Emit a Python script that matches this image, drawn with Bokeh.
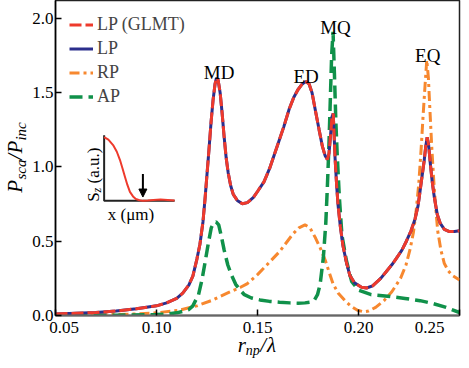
from math import pi
from bokeh.plotting import figure
from bokeh.models import (Range1d, FixedTicker, CustomJSTickFormatter, Legend, LegendItem,
                          Label, Arrow, NormalHead, LinearAxis, AllLabels)
from bokeh.core.properties import value
from bokeh.embed import file_html
from bokeh.resources import INLINE

# ---------------- data ----------------
x_lp = [0.050, 0.060, 0.070, 0.080, 0.090, 0.100, 0.105, 0.110, 0.113, 0.116,
        0.118, 0.120, 0.1215, 0.123, 0.124, 0.125, 0.126, 0.127, 0.128, 0.129,
        0.1297, 0.1305, 0.1315, 0.1325, 0.1335, 0.1345, 0.1355, 0.1367, 0.138, 0.140,
        0.1425, 0.145, 0.148, 0.150, 0.1532, 0.156, 0.160, 0.163, 0.1657, 0.168,
        0.170, 0.172, 0.1738, 0.1755, 0.177, 0.1788, 0.1805, 0.1821, 0.1835, 0.1846,
        0.1854, 0.1862, 0.1869, 0.1875, 0.1884, 0.1892, 0.1899, 0.191, 0.1923, 0.194,
        0.1957, 0.198, 0.2015, 0.204, 0.207, 0.211, 0.214, 0.217, 0.219, 0.2215,
        0.2237, 0.226, 0.228, 0.2295, 0.2305, 0.2315, 0.2325, 0.2333, 0.2340, 0.2347,
        0.2355, 0.2365, 0.2375, 0.2390, 0.2405, 0.2425, 0.245, 0.2475, 0.250]
lp = [0.010, 0.015, 0.020, 0.030, 0.045, 0.065, 0.085, 0.115, 0.150, 0.205,
      0.265, 0.380, 0.480, 0.630, 0.780, 0.950, 1.120, 1.300, 1.450, 1.560,
      1.600, 1.585, 1.500, 1.360, 1.200, 1.060, 0.960, 0.875, 0.815, 0.775,
      0.752, 0.760, 0.795, 0.835, 0.900, 0.990, 1.150, 1.270, 1.390, 1.470,
      1.520, 1.556, 1.575, 1.560, 1.500, 1.370, 1.250, 1.140, 1.075, 1.050,
      1.090, 1.220, 1.340, 1.360, 1.060, 0.870, 0.740, 0.600, 0.470, 0.360,
      0.270, 0.220, 0.190, 0.185, 0.200, 0.250, 0.300, 0.350, 0.390, 0.440,
      0.500, 0.570, 0.650, 0.740, 0.840, 0.940, 1.040, 1.140, 1.200, 1.150,
      1.030, 0.900, 0.800, 0.680, 0.620, 0.580, 0.565, 0.565, 0.570]
lp_glmt = list(lp)

x_rp = [0.050, 0.070, 0.090, 0.100, 0.111, 0.120, 0.1271, 0.135, 0.1416, 0.145,
        0.150, 0.1546, 0.1609, 0.1676, 0.1705, 0.1735, 0.176, 0.1788, 0.1812, 0.1836,
        0.1855, 0.1875, 0.190, 0.1933, 0.1965, 0.1995, 0.2025, 0.205, 0.2085, 0.2126,
        0.2165, 0.2208, 0.2235, 0.2256, 0.2272, 0.2285, 0.2298, 0.231, 0.232, 0.2329,
        0.2338, 0.2346, 0.2353, 0.2362, 0.2372, 0.2382, 0.2392, 0.2408, 0.2425, 0.2445,
        0.2464, 0.250]
rp = [0.002, 0.004, 0.010, 0.018, 0.035, 0.065, 0.100, 0.150, 0.190, 0.215,
      0.275, 0.340, 0.430, 0.550, 0.590, 0.610, 0.590, 0.520, 0.450, 0.370,
      0.290, 0.210, 0.150, 0.100, 0.060, 0.035, 0.025, 0.030, 0.055, 0.100,
      0.160, 0.250, 0.340, 0.450, 0.560, 0.700, 0.880, 1.120, 1.350, 1.540,
      1.720, 1.600, 1.400, 1.150, 0.920, 0.730, 0.570, 0.440, 0.350, 0.300,
      0.270, 0.240]

x_ap = [0.050, 0.080, 0.100, 0.105, 0.110, 0.113, 0.116, 0.118, 0.1208, 0.1225,
        0.1242, 0.1257, 0.1271, 0.1283, 0.1295, 0.1308, 0.132, 0.1335, 0.1353, 0.1372,
        0.1392, 0.1415, 0.1435, 0.147, 0.1512, 0.156, 0.1609, 0.166, 0.170, 0.1735,
        0.176, 0.178, 0.1797, 0.181, 0.1826, 0.1838, 0.1846, 0.1853, 0.186, 0.1867,
        0.1874, 0.1881, 0.1888, 0.1894, 0.1905, 0.1918, 0.194, 0.1966, 0.200, 0.2063,
        0.2144, 0.223, 0.2305, 0.237, 0.2434, 0.250]
ap = [0.000, 0.002, 0.006, 0.010, 0.018, 0.028, 0.040, 0.065, 0.140, 0.240,
      0.370, 0.490, 0.590, 0.625, 0.630, 0.610, 0.540, 0.440, 0.340, 0.270,
      0.210, 0.170, 0.140, 0.118, 0.105, 0.095, 0.090, 0.085, 0.083, 0.085,
      0.090, 0.100, 0.140, 0.210, 0.390, 0.620, 0.870, 1.120, 1.430, 1.750,
      1.910, 1.620, 1.300, 1.100, 0.800, 0.540, 0.370, 0.230, 0.170, 0.140,
      0.130, 0.115, 0.100, 0.080, 0.055, 0.020]

peak_names = ["MD", "ED", "MQ", "EQ"]
peak_x = [0.1310, 0.1741, 0.1886, 0.2343]
peak_y = [1.633, 1.607, 1.940, 1.753]

x_ticks = [0.05, 0.10, 0.15, 0.20, 0.25]
y_ticks = [0.0, 0.5, 1.0, 1.5, 2.0]

# axis titles, split into normal-size parts and subscripts
xlab_main = ["r", "/", "\u03bb"]
xlab_sub = ["np"]
ylab_main = ["P", "/", "P"]
ylab_sub = ["sca", "inc"]

# inset: schematic S_z profile (arbitrary units)
inset_x = [0.00, 0.06, 0.127, 0.18, 0.225, 0.26, 0.296, 0.33, 0.366, 0.41,
           0.45, 0.50, 0.55, 0.62, 0.70, 0.80, 0.90, 1.00]
inset_sz = [1.00, 0.96, 0.875, 0.77, 0.64, 0.51, 0.375, 0.25, 0.14, 0.07,
            0.03, 0.01, 0.00, 0.004, 0.012, 0.022, 0.015, 0.005]
inset_axes_x = [0.0, 0.0, 1.0]
inset_axes_y = [1.03, 0.0, 0.0]
inset_arrow = (0.55, 0.42, 0.06)   # x, y_start, y_end

# ---------------- styling ----------------
RED = "#EE3A2C"
NAVY = "#2B2E8C"
ORANGE = "#F7882F"
GREEN = "#10914A"
SERIF = "Liberation Serif"
AX_FONT = "Times"

W, H = 461, 360
FL, FR, FT, FB = 52, 459, 0, 316      # frame edges in canvas px
X0, X1 = 0.05, 0.25
Y0, Y1 = 0.0, (FB - FT) / 149.0

p = figure(width=W, height=H, x_range=Range1d(X0, X1), y_range=Range1d(Y0, Y1),
           output_backend="svg", toolbar_location=None,
           min_border_left=FL, min_border_right=W - FR,
           min_border_top=FT, min_border_bottom=H - FB)
p.background_fill_color = "white"
p.border_fill_color = "white"
p.outline_line_color = "#222222"
p.outline_line_width = 1.5
p.xgrid.visible = False
p.ygrid.visible = False


def dx(cx):
    return X0 + (cx - FL) * (X1 - X0) / (FR - FL)


def dy(cy):
    return Y0 + (FB - cy) * (Y1 - Y0) / (FB - FT)


# axes
xa = p.xaxis[0]
xa.ticker = FixedTicker(ticks=x_ticks)
xa.formatter = CustomJSTickFormatter(code="""
const nb = String.fromCharCode(160).repeat(4);
const s = tick.toFixed(2);
if (Math.abs(tick - 0.05) < 1e-9) { return nb + s; }
if (Math.abs(tick - 0.25) < 1e-9) { return s + nb; }
return s;
""")
ya = p.yaxis[0]
ya.ticker = FixedTicker(ticks=y_ticks)
ya.formatter = CustomJSTickFormatter(code="return tick.toFixed(1);")
for ax in (xa, ya):
    ax.major_tick_in = 6
    ax.major_tick_out = 0
    ax.minor_tick_line_color = None
    ax.major_tick_line_color = "black"
    ax.major_tick_line_width = 1.5
    ax.major_label_text_font = AX_FONT
    ax.major_label_text_font_size = "17px"
    ax.major_label_text_color = "black"
    ax.major_label_standoff = 2
xa.axis_line_color = "#666666"
xa.axis_line_width = 2
ya.axis_line_color = "black"
ya.axis_line_width = 1.5


def title_axis(side, positions, labels, size, standoff, vertical=False):
    code = "const L = %r; return L[index];" % (labels,)
    ax = LinearAxis(ticker=FixedTicker(ticks=positions),
                    formatter=CustomJSTickFormatter(code=code),
                    major_label_policy=AllLabels())
    ax.axis_line_color = None
    ax.major_tick_line_color = None
    ax.minor_tick_line_color = None
    ax.major_tick_in = 0
    ax.major_tick_out = 0
    ax.major_label_text_font = AX_FONT
    ax.major_label_text_font_size = f"{size}px"
    ax.major_label_text_font_style = "italic"
    ax.major_label_text_color = "black"
    ax.major_label_standoff = standoff
    if vertical:
        ax.major_label_orientation = "vertical"
    p.add_layout(ax, side)


# x title: r_np / lambda
title_axis("below", [dx(239.6), dx(261.1), dx(269.7)], xlab_main, 21, -7)
title_axis("below", [dx(250.7)], xlab_sub, 14, -17)
# y title: P_sca / P_inc (subscripts sit nearer the frame)
title_axis("left", [dy(169.6), dy(131.3)], ylab_sub, 15, 0, vertical=True)
title_axis("left", [dy(186.3), dy(156.7), dy(147.1)], ylab_main, 21, -17, vertical=True)

# curves
r_rp = p.line(x_rp, rp, line_color=ORANGE, line_width=3, line_dash="10 4 3 4")
r_ap = p.line(x_ap, ap, line_color=GREEN, line_width=3.5, line_dash="13 6")
r_lp = p.line(x_lp, lp, line_color=NAVY, line_width=3)
r_gl = p.line(x_lp, lp_glmt, line_color=RED, line_width=3, line_dash="12 4")

legend = Legend(items=[
    LegendItem(label="LP (GLMT)", renderers=[r_gl]),
    LegendItem(label="LP", renderers=[r_lp]),
    LegendItem(label="RP", renderers=[r_rp]),
    LegendItem(label="AP", renderers=[r_ap]),
], location="top_left")
legend.padding = 0
legend.margin = 14
legend.spacing = 3
legend.glyph_width = 24
legend.glyph_height = 21
legend.label_height = 21
legend.label_standoff = 4
legend.label_text_font = AX_FONT
legend.label_text_font_size = "18px"
legend.border_line_alpha = 0
legend.background_fill_alpha = 0
p.add_layout(legend, "center")

# peak labels
p.text(peak_x, peak_y, text=peak_names, text_font=value(SERIF),
       text_font_size=value("19px"), text_align="center",
       text_baseline="alphabetic", text_color="black")

# inset (own ranges mapped onto the frame)
ipx0, ipx_per = 101 - FL, 71.0
ipy0, ipy_per = FB - 201, 64.0
p.extra_x_ranges = {"ix": Range1d(-ipx0 / ipx_per, -ipx0 / ipx_per + (FR - FL) / ipx_per)}
p.extra_y_ranges = {"iy": Range1d(-ipy0 / ipy_per, -ipy0 / ipy_per + (FB - FT) / ipy_per)}
p.line(inset_axes_x, inset_axes_y, line_color="#222222", line_width=2,
       x_range_name="ix", y_range_name="iy")
p.line(inset_x, inset_sz, line_color=RED, line_width=2,
       x_range_name="ix", y_range_name="iy")
p.add_layout(Arrow(end=NormalHead(size=8, fill_color="black", line_color="black"),
                   x_start=inset_arrow[0], y_start=inset_arrow[1],
                   x_end=inset_arrow[0], y_end=inset_arrow[2],
                   line_color="black", line_width=2,
                   x_range_name="ix", y_range_name="iy"))


def lab(cx, cy, text, size, italic=False, angle=0.0, align="left"):
    p.add_layout(Label(x=dx(cx), y=dy(cy), text=text, text_font=SERIF,
                       text_font_size=f"{size}px",
                       text_font_style="italic" if italic else "normal",
                       text_align=align, text_baseline="alphabetic",
                       angle=angle, text_color="black"))


# inset labels
lab(128, 215, "x (\u03bcm)", 17, align="center")
lab(90, 202, "S", 17, angle=pi / 2)
lab(94, 192.5, "z", 12, italic=True, angle=pi / 2)
lab(90, 183.5, "(a.u.)", 17, angle=pi / 2)

open("out.html", "w").write(file_html(p, INLINE))
